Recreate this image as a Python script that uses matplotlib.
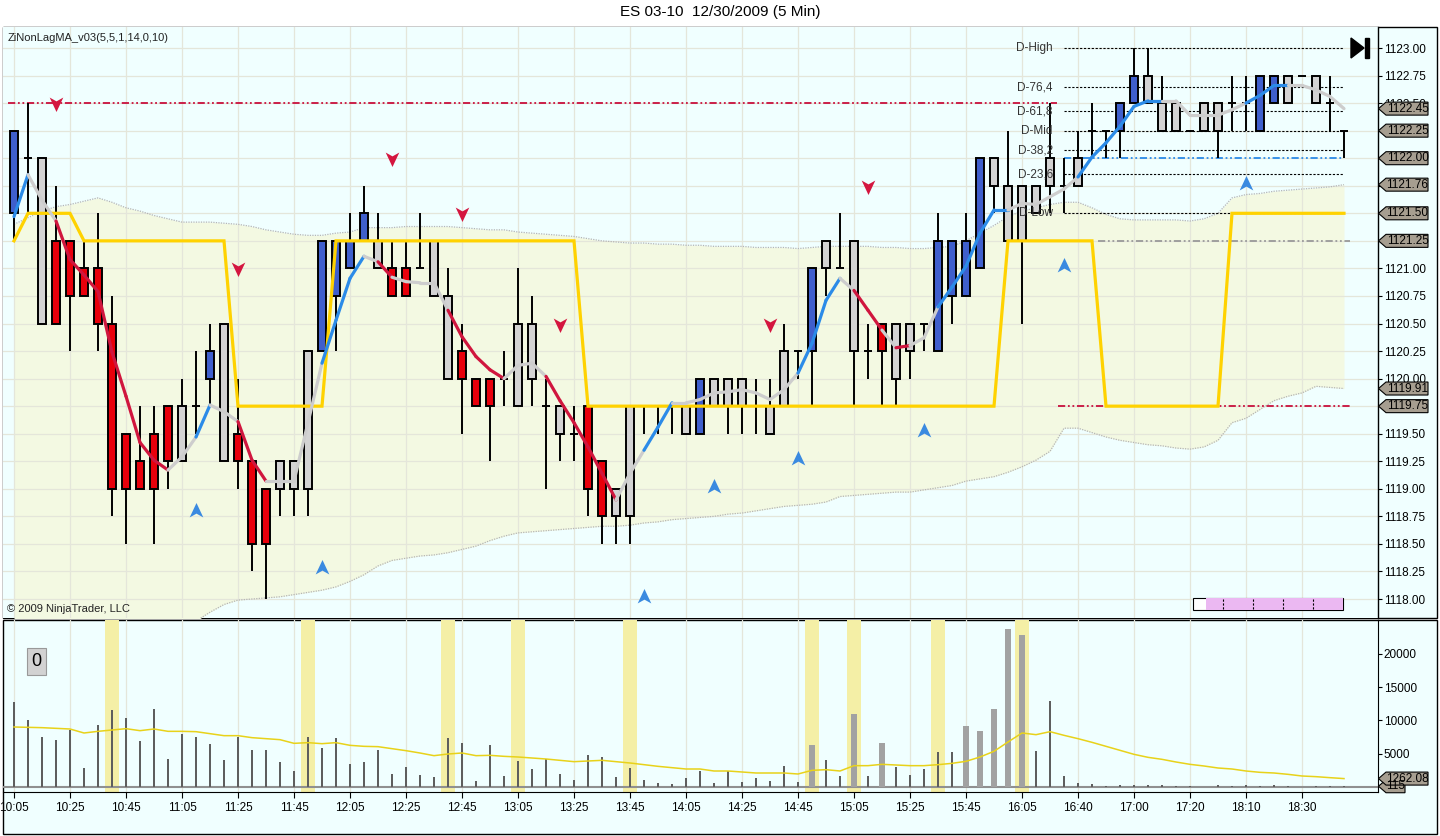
import numpy as np
import matplotlib
matplotlib.use('Agg')
import matplotlib.pyplot as plt
from matplotlib.patches import Polygon, Rectangle
from matplotlib.path import Path
from matplotlib.transforms import blended_transform_factory

plt.rcParams['font.family'] = ['Liberation Sans', 'DejaVu Sans']

# ---- data ----
o = [1121.50, 1122.00, 1122.00, 1121.25, 1121.25, 1121.00, 1121.00, 1120.50, 1119.50, 1119.25,
     1119.50, 1119.75, 1119.25, 1119.75, 1120.00, 1120.50, 1119.50, 1119.25, 1119.00, 1119.00,
     1119.00, 1119.00, 1120.25, 1120.75, 1121.00, 1121.25, 1121.25, 1121.00, 1121.00, 1121.00,
     1121.25, 1120.75, 1120.25, 1120.00, 1120.00, 1120.00, 1119.75, 1120.50, 1119.75, 1119.75,
     1119.50, 1119.75, 1119.25, 1119.00, 1118.75, 1119.75, 1119.75, 1119.75, 1119.75, 1119.50,
     1119.75, 1120.00, 1119.75, 1119.75, 1119.75, 1119.75, 1120.25, 1120.25, 1121.00, 1121.00,
     1121.25, 1120.25, 1120.50, 1120.50, 1120.25, 1120.50, 1120.25, 1120.75, 1120.75, 1121.00,
     1121.75, 1121.75, 1121.25, 1121.75, 1121.75, 1121.75, 1121.75, 1122.25, 1122.25, 1122.25,
     1122.50, 1122.50, 1122.50, 1122.25, 1122.25, 1122.50, 1122.25, 1122.50, 1122.50, 1122.25,
     1122.50, 1122.75, 1122.75, 1122.50, 1122.50, 1122.25]
h = [1122.25, 1122.50, 1122.00, 1121.75, 1121.25, 1121.25, 1121.50, 1120.75, 1119.50, 1119.75,
     1119.75, 1119.75, 1120.00, 1120.25, 1120.50, 1120.50, 1120.00, 1119.25, 1119.00, 1119.25,
     1119.25, 1120.25, 1121.25, 1121.25, 1121.50, 1121.75, 1121.50, 1121.25, 1121.25, 1121.50,
     1121.25, 1121.00, 1120.50, 1120.00, 1120.00, 1120.25, 1121.00, 1120.75, 1120.00, 1119.75,
     1119.75, 1119.75, 1119.25, 1119.00, 1119.75, 1119.75, 1119.75, 1119.75, 1119.75, 1120.00,
     1120.00, 1120.00, 1120.00, 1120.00, 1120.00, 1120.50, 1120.25, 1121.00, 1121.25, 1121.50,
     1121.25, 1120.50, 1120.50, 1120.50, 1120.50, 1120.50, 1121.50, 1121.25, 1121.50, 1122.00,
     1122.00, 1122.25, 1121.75, 1121.75, 1122.50, 1122.00, 1122.25, 1122.50, 1122.25, 1122.50,
     1123.00, 1123.00, 1122.75, 1122.50, 1122.25, 1122.50, 1122.50, 1122.75, 1122.75, 1122.75,
     1122.75, 1122.75, 1122.75, 1122.75, 1122.75, 1122.25]
l = [1121.25, 1121.50, 1120.50, 1120.50, 1120.25, 1120.75, 1120.25, 1118.75, 1118.50, 1119.00,
     1118.50, 1119.00, 1119.25, 1119.50, 1119.75, 1119.25, 1119.00, 1118.25, 1118.00, 1118.75,
     1118.75, 1118.75, 1120.25, 1120.25, 1121.00, 1121.25, 1121.00, 1120.75, 1120.75, 1121.00,
     1120.75, 1120.00, 1119.50, 1119.75, 1119.25, 1119.75, 1119.75, 1119.75, 1119.00, 1119.25,
     1119.25, 1118.75, 1118.50, 1118.50, 1118.50, 1119.50, 1119.50, 1119.50, 1119.50, 1119.50,
     1119.75, 1119.50, 1119.50, 1119.50, 1119.50, 1119.75, 1120.00, 1119.75, 1120.75, 1121.00,
     1119.75, 1120.00, 1119.75, 1119.75, 1120.00, 1120.25, 1120.25, 1120.50, 1120.75, 1121.00,
     1121.50, 1121.25, 1120.50, 1121.50, 1121.50, 1121.50, 1121.75, 1122.00, 1122.00, 1122.00,
     1122.50, 1122.50, 1122.25, 1122.25, 1122.25, 1122.25, 1122.00, 1122.25, 1122.25, 1122.25,
     1122.50, 1122.50, 1122.75, 1122.50, 1122.25, 1122.00]
c = [1122.25, 1122.00, 1120.50, 1120.50, 1120.75, 1120.75, 1120.50, 1119.00, 1119.00, 1119.00,
     1119.00, 1119.25, 1119.75, 1119.75, 1120.25, 1119.25, 1119.25, 1118.50, 1118.50, 1119.25,
     1119.25, 1120.25, 1121.25, 1121.25, 1121.25, 1121.50, 1121.00, 1120.75, 1120.75, 1121.00,
     1120.75, 1120.00, 1120.00, 1119.75, 1119.75, 1120.00, 1120.50, 1120.00, 1119.75, 1119.50,
     1119.50, 1119.00, 1118.75, 1118.75, 1119.75, 1119.75, 1119.75, 1119.75, 1119.50, 1120.00,
     1120.00, 1119.75, 1120.00, 1119.75, 1119.50, 1120.25, 1120.25, 1121.00, 1121.25, 1121.00,
     1120.25, 1120.25, 1120.25, 1120.00, 1120.50, 1120.50, 1121.25, 1121.25, 1121.25, 1122.00,
     1122.00, 1121.25, 1121.75, 1121.50, 1122.00, 1121.75, 1122.00, 1122.25, 1122.25, 1122.50,
     1122.75, 1122.75, 1122.25, 1122.50, 1122.25, 1122.25, 1122.50, 1122.50, 1122.50, 1122.75,
     1122.75, 1122.50, 1122.75, 1122.75, 1122.50, 1122.25]
body_col = list('bggrrrrrrrrrggbgrrrgggbbbbgrrgggrrrgggrgrrrggggggbgggrggbbgggrrggbbbbbgggggbggbbbggggggggbbggggg')

ma = [1121.47, 1121.85, 1121.62, 1121.43, 1121.08, 1120.94, 1120.79, 1120.24, 1119.84, 1119.42,
      1119.26, 1119.17, 1119.29, 1119.47, 1119.76, 1119.70, 1119.61, 1119.26, 1119.07, 1119.07,
      1119.07, 1119.60, 1120.14, 1120.53, 1120.91, 1121.11, 1121.06, 1120.92, 1120.88, 1120.87,
      1120.87, 1120.62, 1120.38, 1120.20, 1120.08, 1120.00, 1120.12, 1120.14, 1120.02, 1119.80,
      1119.60, 1119.38, 1119.14, 1118.90, 1119.14, 1119.35, 1119.56, 1119.78, 1119.78, 1119.81,
      1119.87, 1119.88, 1119.90, 1119.87, 1119.81, 1119.90, 1120.05, 1120.32, 1120.71, 1120.91,
      1120.80, 1120.62, 1120.44, 1120.28, 1120.30, 1120.37, 1120.65, 1120.83, 1121.02, 1121.32,
      1121.53, 1121.53, 1121.59, 1121.58, 1121.65, 1121.72, 1121.83, 1122.01, 1122.14, 1122.29,
      1122.47, 1122.52, 1122.52, 1122.52, 1122.39, 1122.39, 1122.39, 1122.44, 1122.50, 1122.57,
      1122.66, 1122.66, 1122.66, 1122.62, 1122.56, 1122.45]
# trend of the segment that ends at each bar (u up, d down, n flat)
ma_trend = list('nunnddddddddnnunnddnnnnuuundnnnnddddnnndddddnnuunnnnnnnnnuuunddndnnuuuuunnnnnuuuuuunnnnnnuuunnnnd')

stop = [1121.25, 1121.50, 1121.50, 1121.50, 1121.50, 1121.25, 1121.25, 1121.25, 1121.25, 1121.25,
        1121.25, 1121.25, 1121.25, 1121.25, 1121.25, 1121.25, 1119.75, 1119.75, 1119.75, 1119.75,
        1119.75, 1119.75, 1119.75, 1121.25, 1121.25, 1121.25, 1121.25, 1121.25, 1121.25, 1121.25,
        1121.25, 1121.25, 1121.25, 1121.25, 1121.25, 1121.25, 1121.25, 1121.25, 1121.25, 1121.25,
        1121.25, 1119.75, 1119.75, 1119.75, 1119.75, 1119.75, 1119.75, 1119.75, 1119.75, 1119.75,
        1119.75, 1119.75, 1119.75, 1119.75, 1119.75, 1119.75, 1119.75, 1119.75, 1119.75, 1119.75,
        1119.75, 1119.75, 1119.75, 1119.75, 1119.75, 1119.75, 1119.75, 1119.75, 1119.75, 1119.75,
        1119.75, 1121.25, 1121.25, 1121.25, 1121.25, 1121.25, 1121.25, 1121.25, 1119.75, 1119.75,
        1119.75, 1119.75, 1119.75, 1119.75, 1119.75, 1119.75, 1119.75, 1121.50, 1121.50, 1121.50,
        1121.50, 1121.50, 1121.50, 1121.50, 1121.50, 1121.50]

band_up = [1121.40, 1121.46, 1121.52, 1121.56, 1121.58, 1121.61, 1121.64, 1121.60, 1121.55, 1121.52,
           1121.48, 1121.45, 1121.42, 1121.42, 1121.42, 1121.41, 1121.40, 1121.38, 1121.35, 1121.33,
           1121.31, 1121.30, 1121.30, 1121.32, 1121.33, 1121.37, 1121.37, 1121.37, 1121.38, 1121.38,
           1121.38, 1121.38, 1121.37, 1121.36, 1121.35, 1121.35, 1121.33, 1121.32, 1121.31, 1121.30,
           1121.29, 1121.27, 1121.25, 1121.24, 1121.23, 1121.23, 1121.22, 1121.22, 1121.21, 1121.21,
           1121.20, 1121.20, 1121.20, 1121.19, 1121.19, 1121.19, 1121.18, 1121.19, 1121.20, 1121.20,
           1121.20, 1121.20, 1121.19, 1121.19, 1121.18, 1121.18, 1121.19, 1121.20, 1121.25, 1121.32,
           1121.39, 1121.47, 1121.52, 1121.55, 1121.58, 1121.60, 1121.60, 1121.55, 1121.49, 1121.45,
           1121.44, 1121.44, 1121.44, 1121.44, 1121.43, 1121.45, 1121.50, 1121.64, 1121.67, 1121.68,
           1121.70, 1121.71, 1121.72, 1121.73, 1121.74, 1121.76]
band_lo = [1117.40, 1117.35, 1117.30, 1117.30, 1117.35, 1117.40, 1117.45, 1117.50, 1117.55, 1117.60,
           1117.65, 1117.70, 1117.75, 1117.80, 1117.88, 1117.95, 1117.99, 1118.00, 1118.01, 1118.02,
           1118.04, 1118.06, 1118.08, 1118.11, 1118.16, 1118.22, 1118.30, 1118.35, 1118.37, 1118.39,
           1118.40, 1118.42, 1118.45, 1118.48, 1118.53, 1118.57, 1118.60, 1118.61, 1118.62, 1118.63,
           1118.64, 1118.65, 1118.66, 1118.66, 1118.67, 1118.69, 1118.70, 1118.72, 1118.73, 1118.74,
           1118.75, 1118.77, 1118.78, 1118.80, 1118.82, 1118.84, 1118.85, 1118.86, 1118.88, 1118.93,
           1118.94, 1118.95, 1118.96, 1118.97, 1118.97, 1118.99, 1119.01, 1119.03, 1119.07, 1119.09,
           1119.11, 1119.15, 1119.20, 1119.26, 1119.34, 1119.55, 1119.55, 1119.51, 1119.47, 1119.44,
           1119.42, 1119.40, 1119.39, 1119.37, 1119.36, 1119.38, 1119.44, 1119.60, 1119.64, 1119.72,
           1119.80, 1119.84, 1119.87, 1119.93, 1119.92, 1119.91]

# signal arrows (bar index, price)
dn_arrows_x = [3, 16, 27, 32, 39, 54, 61]
dn_arrows_y = [1122.50, 1121.00, 1122.00, 1121.50, 1120.50, 1120.50, 1121.75]
up_arrows_x = [13, 22, 45, 50, 56, 65, 75, 88]
up_arrows_y = [1118.80, 1118.28, 1118.02, 1119.02, 1119.27, 1119.52, 1121.02, 1121.77]

# daily levels
lvl_names = ['D-High', 'D-76,4', 'D-61,8', 'D-Mid', 'D-38,2', 'D-23,6', 'D-Low']
lvl_vals = [1123.00, 1122.646, 1122.427, 1122.25, 1122.073, 1121.854, 1121.50]

tags_px = [1122.45, 1122.25, 1122.00, 1121.76, 1121.50, 1121.25, 1119.91, 1119.75]

vol = [12750, 10000, 7500, 7000, 8500, 2850, 9250, 11500, 10350, 6900,
       11700, 4200, 7900, 7500, 6400, 4000, 7500, 5500, 5500, 3700,
       2350, 7450, 5850, 7300, 3400, 3700, 5500, 1900, 2950, 1750,
       1450, 7300, 6550, 850, 6250, 1600, 3850, 2650, 4200, 1900,
       1000, 4750, 4450, 1450, 2800, 1000, 550, 400, 1300, 2350,
       550, 2350, 700, 1300, 850, 3100, 700, 6250, 4000, 1600,
       10900, 1600, 6550, 2950, 1750, 2650, 5200, 5200, 9100, 8350,
       11650, 23650, 22750, 5350, 12850, 1600, 550, 400, 150, 250,
       250, 250, 250, 150, 100, 50, 250, 150, 250, 150,
       250, 150, 50, 150, 150, 115]
vol_ma = [9000, 8950, 8900, 8800, 8700, 8100, 8350, 8550, 8750, 8450,
          8700, 8350, 8350, 8300, 8000, 7700, 7700, 7400, 7250, 7100,
          6550, 6650, 6500, 6650, 6250, 6100, 6050, 5750, 5450, 5100,
          4700, 4950, 5100, 4700, 4750, 4600, 4500, 4350, 4200, 4000,
          3800, 3900, 4000, 3800, 3600, 3350, 3100, 2900, 2700, 2700,
          2400, 2400, 2250, 2100, 2100, 2100, 1950, 2500, 2600, 2400,
          3200, 3200, 3400, 3300, 3200, 3200, 3350, 3550, 3850, 4500,
          5350, 6750, 8100, 7850, 8300, 7750, 7250, 6700, 6100, 5500,
          4900, 4450, 4150, 3750, 3400, 3150, 2850, 2700, 2400, 2200,
          2100, 1900, 1650, 1550, 1400, 1262.08]
wide_vol = [57, 60, 62, 68, 69, 70, 71, 72]
hilite = [7, 21, 31, 36, 44, 57, 60, 66, 72]

tick_labels = ['10:05', '10:25', '10:45', '11:05', '11:25', '11:45', '12:05', '12:25',
               '12:45', '13:05', '13:25', '13:45', '14:05', '14:25', '14:45', '15:05',
               '15:25', '15:45', '16:05', '16:40', '17:00', '17:20', '18:10', '18:30']

# ---- colours ----
bg = '#F0FFFF'
band_fill = '#F3F9E2'
grid_c = '#E4E6DA'
cmap_body = {'b': '#3F5FCC', 'r': '#E8000B', 'g': '#D3D3D3'}
cmap_ma = {'u': '#2B8BE8', 'd': '#D0163E', 'n': '#CDCDCD'}
tag_c = '#A69E90'

W, H = 1440, 836
fig = plt.figure(figsize=(W / 100, H / 100), dpi=100)
fig.patch.set_facecolor('white')

# panel frames (behind the axes)
fig.patches.append(Rectangle((3 / W, 1 - 618 / H), 1434 / W, 591 / H, transform=fig.transFigure,
                             facecolor=bg, edgecolor='black', lw=1, zorder=-5))
fig.patches.append(Rectangle((3 / W, 1 - 834 / H), 1434 / W, 214 / H, transform=fig.transFigure,
                             facecolor=bg, edgecolor='black', lw=1, zorder=-5))

ax1 = fig.add_axes([3 / W, 1 - 618 / H, 1375 / W, 591 / H])
ax2 = fig.add_axes([3 / W, 1 - 792 / H, 1375 / W, 172 / H])

fig.text(0.5, 1 - 12 / H, 'ES 03-10  12/30/2009 (5 Min)', ha='center', va='center', fontsize=11)

x = np.arange(len(c))
xlim = (-11 / 14, (1375 - 11) / 14)

# ---- price panel ----
ax1.set_facecolor(bg)
ax1.set_xlim(*xlim)
ax1.set_ylim(1117.8276, 1123.1906)
ax1.set_axisbelow(True)
ax1.grid(True, color=grid_c, lw=0.9)
ax1.set_xticks(x[::4])
ax1.tick_params(axis='x', length=0, labelbottom=False)
yt = np.arange(1118.0, 1123.01, 0.25)
# labels fully covered by the price tags are left blank
covered = [1122.25, 1122.00, 1121.75, 1121.50, 1121.25, 1119.75]
ax1.set_yticks(yt)
ax1.set_yticklabels(['' if any(abs(v - cv) < 1e-6 for cv in covered) else '%.2f' % v for v in yt])
ax1.yaxis.tick_right()
ax1.tick_params(axis='y', direction='out', length=3, width=0.8, pad=1, labelsize=8.5)
for s in ['left', 'top', 'bottom']:
    ax1.spines[s].set_visible(False)
ax1.spines['right'].set_linewidth(1)

ax1.fill_between(x, band_lo, band_up, color=band_fill, zorder=0.2, lw=0)
ax1.plot(x, band_up, color='#B5B5B5', lw=0.9, ls=(0, (1, 1)), zorder=0.6)
ax1.plot(x, band_lo, color='#B5B5B5', lw=0.9, ls=(0, (1, 1)), zorder=0.6)

# horizontal reference lines
dashdot = (0, (4, 1.5, 1, 1.5, 1, 1.5))
ax1.hlines(1122.50, -0.43, 74.5, color='#C8103C', lw=1.3, linestyles=[dashdot], zorder=1.8)
ax1.hlines(1119.75, 74.6, 95.5, color='#C8103C', lw=1.3, linestyles=[dashdot], zorder=1.8)
ax1.hlines(1122.00, 75.0, 94.9, color='#2B8BE8', lw=1.3, linestyles=[dashdot], zorder=1.8)
ax1.hlines(1121.25, 77.4, 95.4, color='#999999', lw=1.3, linestyles=[dashdot], zorder=1.8)
for name, v in zip(lvl_names, lvl_vals):
    ax1.hlines(v, 75.0, 94.9, color='black', lw=0.8, linestyles=[(0, (2, 1.5))], zorder=1.9)
    ax1.text(74.2, v, name, ha='right', va='center', fontsize=8.5, color='#333333', zorder=6)

# candles
o_a, h_a, l_a, c_a = map(np.array, (o, h, l, c))
ax1.vlines(x, l_a, h_a, color='black', lw=1.4, zorder=2)
bot = np.minimum(o_a, c_a)
top = np.maximum(o_a, c_a)
real = top > bot
ax1.bar(x[real], (top - bot)[real], bottom=bot[real], width=0.57,
        color=[cmap_body[k] for k, r in zip(body_col, real) if r],
        edgecolor='black', linewidth=1.4, zorder=2.5)
ax1.hlines(o_a[~real], x[~real] - 0.3, x[~real] + 0.3, color='black', lw=1.4, zorder=2.5)

# trend lines
ax1.plot(x, stop, color='#FFD200', lw=2.3, zorder=3, solid_joinstyle='miter')
for i in range(1, len(ma)):
    ax1.plot([i - 1, i], [ma[i - 1], ma[i]], color=cmap_ma[ma_trend[i]], lw=2.3,
             solid_capstyle='round', zorder=4)

# arrows
dn_path = Path([(0, -1), (0.8, 0.7), (0, 0.25), (-0.8, 0.7), (0, -1)],
               [Path.MOVETO, Path.LINETO, Path.LINETO, Path.LINETO, Path.CLOSEPOLY])
up_path = Path([(0, 1), (0.8, -0.7), (0, -0.25), (-0.8, -0.7), (0, 1)],
               [Path.MOVETO, Path.LINETO, Path.LINETO, Path.LINETO, Path.CLOSEPOLY])
ax1.scatter(dn_arrows_x, dn_arrows_y, marker=dn_path, s=150, color='#D4163F', zorder=5, lw=0)
ax1.scatter(up_arrows_x, up_arrows_y, marker=up_path, s=150, color='#3A8AE0', zorder=5, lw=0)

# text and little widgets
ax1.text(5 / 1375, (618 - 38) / 591, 'ZiNonLagMA_v03(5,5,1,14,0,10)', transform=ax1.transAxes,
         ha='left', va='center', fontsize=8, color='#222222')
ax1.text(4 / 1375, (618 - 609) / 591, '\u00a9 2009 NinjaTrader, LLC', transform=ax1.transAxes,
         ha='left', va='center', fontsize=8, color='#222222')


def ax_pt(px, py):
    return ((px - 3) / 1375, (618 - py) / 591)


ax1.add_patch(Polygon([ax_pt(1351, 38), ax_pt(1351, 58), ax_pt(1364, 48)], closed=True,
                      transform=ax1.transAxes, color='black', zorder=6))
ax1.add_patch(Rectangle(ax_pt(1365, 58), 4 / 1375, 20 / 591, transform=ax1.transAxes,
                        color='black', zorder=6))
ax1.add_patch(Rectangle(ax_pt(1193, 610), 150 / 1375, 12 / 591, transform=ax1.transAxes,
                        facecolor='white', edgecolor='black', lw=0.8, zorder=6))
ax1.add_patch(Rectangle(ax_pt(1206, 610), 137 / 1375, 12 / 591, transform=ax1.transAxes,
                        facecolor='#EBB8F2', edgecolor='none', zorder=6))
for dx in [1223, 1253, 1283, 1313]:
    ax1.plot([ax_pt(dx, 0)[0]] * 2, [ax_pt(0, 609)[1], ax_pt(0, 599)[1]], transform=ax1.transAxes,
             color='black', lw=0.8, ls=(0, (2, 1.5)), zorder=7)


def tag(ax, y, txt, wpx, hpx_per_unit):
    t = blended_transform_factory(ax.transAxes, ax.transData)
    aw = 1375
    hh = 6.5 / hpx_per_unit
    x0, x1, x2 = 1 + 0.5 / aw, 1 + 8 / aw, 1 + wpx / aw
    ax.add_patch(Polygon([(x0, y), (x1, y + hh), (x2, y + hh), (x2, y - hh), (x1, y - hh)],
                         closed=True, transform=t, facecolor=tag_c, edgecolor='black', lw=0.8,
                         clip_on=False, zorder=10))
    ax.text((x1 + x2) / 2 + 0.5 / aw, y, txt, transform=t, ha='center', va='center', fontsize=8.5,
            clip_on=False, zorder=11)


ppu1 = 591 / (1123.1906 - 1117.8276)
for v in tags_px:
    tag(ax1, v, '%.2f' % v, 50, ppu1)

# ---- volume panel ----
ax2.set_facecolor('none')
ax2.set_xlim(*xlim)
ax2.set_ylim(-750, 25050)
for s in ['left', 'top']:
    ax2.spines[s].set_visible(False)
ax2.set_xticks(x[::4])
ax2.set_xticklabels(tick_labels)
ax2.tick_params(axis='x', direction='out', length=4, width=0.8, pad=3, labelsize=8.5)
ax2.xaxis.grid(True, color=grid_c, lw=0.9)
ax2.set_axisbelow(True)
ax2.yaxis.tick_right()
ax2.set_yticks([5000, 10000, 15000, 20000])
ax2.set_yticklabels(['5000', '10000', '15000', '20000'])
ax2.tick_params(axis='y', direction='out', length=3, width=0.8, pad=1, labelsize=8.5)

for i in hilite:
    ax2.axvspan(i - 0.5, i + 0.5, color='#F4EFA6', lw=0, zorder=0.8)
ax2.axhline(0, color='#909090', lw=1.5, zorder=1)
thin = [i for i in x if i not in wide_vol]
ax2.bar(thin, [vol[i] for i in thin], width=0.15, color='#5E5E5E', zorder=2)
ax2.bar(wide_vol, [vol[i] for i in wide_vol], width=0.36, color='#A2A2A2', zorder=2)
ax2.plot(x, vol_ma, color='#E8D21A', lw=1.1, zorder=3)

ax2.text((36.5 - 3) / 1375, (792 - 661.5) / 172, '0', transform=ax2.transAxes, ha='center',
         va='center', fontsize=13,
         bbox=dict(boxstyle='square,pad=0.25', facecolor='#D2D2D2', edgecolor='#999999', lw=0.8))

ppu2 = 172 / (25050 + 750)
tag(ax2, vol[-1], '%d' % vol[-1], 27, ppu2)
tag(ax2, vol_ma[-1], '%.2f' % vol_ma[-1], 50, ppu2)

fig.savefig('out.png', dpi=100, facecolor='white')
